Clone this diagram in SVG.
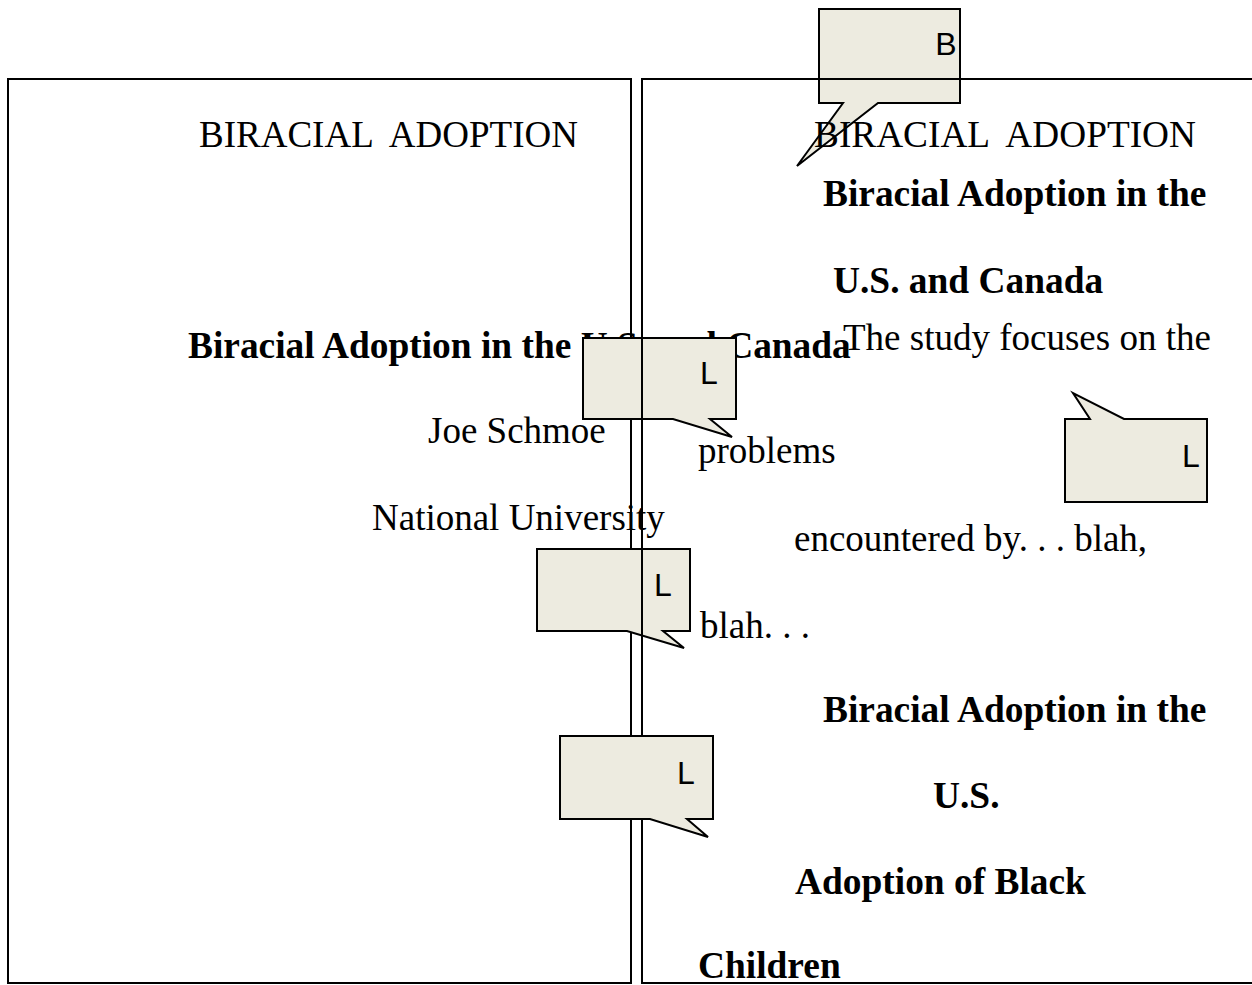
<svg xmlns="http://www.w3.org/2000/svg" width="1252" height="985" viewBox="0 0 1252 985">
<style>
.page{fill:none;stroke:#000;stroke-width:2}
.t{font-family:"Liberation Serif","Times New Roman",serif;font-size:37px;fill:#000;white-space:pre}
.b{font-weight:bold;font-size:37.4px}
.co{fill:#EDEBE0;stroke:#000;stroke-width:2;stroke-linejoin:miter}
.cl{font-family:"Liberation Sans",Arial,sans-serif;font-size:32px;fill:#000;text-anchor:middle}
</style>
<rect width="1252" height="985" fill="#fff"/>
<g id="left-page">
<rect class="page" x="8" y="79" width="623" height="904"/>
<text class="t" x="199" y="147" xml:space="preserve" textLength="379" lengthAdjust="spacingAndGlyphs">BIRACIAL  ADOPTION</text>
<text class="t b" x="188" y="358">Biracial Adoption in the U.S. and Canada</text>
<text class="t" x="428" y="443">Joe Schmoe</text>
<text class="t" x="372" y="530">National University</text>
</g>
<g id="callout-b">
<path class="co" d="M819,9 H960 V103 H878 L797,166 L843,103 H819 Z"/>
<text class="cl" x="946" y="55">B</text>
</g>
<g id="callout-l1">
<path class="co" d="M583,338 H736 V419 H710 L732,437 L673,419 H583 Z"/>
<text class="cl" x="709" y="384">L</text>
</g>
<g id="callout-l2">
<path class="co" d="M537,549 H690 V631 H663 L684,648 L627,631 H537 Z"/>
<text class="cl" x="663" y="596">L</text>
</g>
<g id="right-page">
<rect class="page" x="642" y="79" width="700" height="904"/>
<text class="t" x="814" y="147" xml:space="preserve" textLength="382" lengthAdjust="spacingAndGlyphs">BIRACIAL  ADOPTION</text>
<text class="t b" x="823" y="206">Biracial Adoption in the</text>
<text class="t b" x="833" y="293">U.S. and Canada</text>
<text class="t" x="843" y="350">The study focuses on the</text>
<text class="t" x="698" y="463">problems</text>
<text class="t" x="794" y="551">encountered by. . . blah,</text>
<text class="t" x="700" y="638">blah. . .</text>
<text class="t b" x="823" y="722">Biracial Adoption in the</text>
<text class="t b" x="933" y="808">U.S.</text>
<text class="t b" x="795" y="894">Adoption of Black</text>
<text class="t b" x="698" y="978">Children</text>
</g>
<g id="callout-l3">
<path class="co" d="M560,736 H713 V819 H687 L708,837 L650,819 H560 Z"/>
<text class="cl" x="686" y="784">L</text>
</g>
<g id="callout-l4">
<path class="co" d="M1065,419 H1090 L1073,393 L1124,419 H1207 V502 H1065 Z"/>
<text class="cl" x="1191" y="467">L</text>
</g>
<g id="connectors"></g>
</svg>
